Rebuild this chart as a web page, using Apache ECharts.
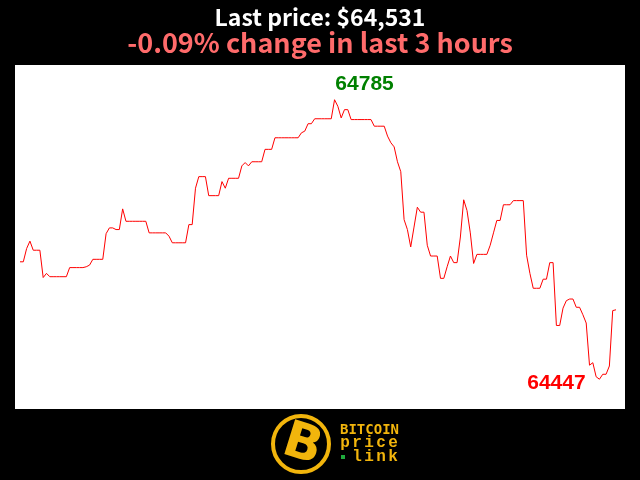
<!DOCTYPE html>
<html>
<head>
<meta charset="utf-8">
<style>
  html, body { margin: 0; padding: 0; background: #000; }
  #main { width: 640px; height: 480px; }
</style>
<script src="https://cdn.jsdelivr.net/npm/echarts@6/dist/echarts.min.js"></script>
</head>
<body>
<div id="main"></div>
<script>
// price per minute, last 3 hours
var prices = [
  64589, 64589, 64605, 64614, 64603, 64603, 64603, 64570, 64575, 64571,
  64571, 64571, 64571, 64571, 64571, 64582, 64582, 64582, 64582, 64582,
  64583, 64585, 64592, 64592, 64592, 64592, 64623, 64630, 64630, 64628,
  64628, 64653, 64638, 64638, 64638, 64638, 64638, 64638, 64638, 64624,
  64624, 64624, 64624, 64624, 64624, 64620, 64612, 64612, 64612, 64612,
  64612, 64634, 64634, 64678, 64692, 64692, 64692, 64669, 64669, 64669,
  64669, 64686, 64678, 64690, 64690, 64690, 64690, 64705, 64709, 64705,
  64710, 64710, 64710, 64710, 64725, 64725, 64725, 64739, 64739, 64739,
  64739, 64739, 64739, 64739, 64739, 64745, 64747, 64756, 64756, 64762,
  64762, 64762, 64762, 64762, 64762, 64785, 64777, 64763, 64773, 64773,
  64761, 64761, 64761, 64761, 64761, 64761, 64761, 64753, 64753, 64753,
  64753, 64741, 64733, 64728, 64710, 64698, 64640, 64628, 64607, 64631,
  64655, 64649, 64649, 64609, 64596, 64596, 64596, 64569, 64569, 64583,
  64596, 64588, 64588, 64619, 64664, 64651, 64624, 64587, 64598, 64598,
  64598, 64598, 64609, 64624, 64639, 64639, 64658, 64658, 64658, 64663,
  64663, 64663, 64663, 64597, 64575, 64557, 64557, 64557, 64568, 64568,
  64588, 64588, 64512, 64512, 64533, 64542, 64544, 64544, 64534, 64534,
  64525, 64515, 64464, 64467, 64450, 64447, 64453, 64453, 64463, 64530,
  64531
];
var minutes = [];
for (var i = 0; i < prices.length; i++) {
  minutes.push(i);
}
var yMin = 64411, yMax = 64827;

var lastPrice = prices[prices.length - 1];
var change = (lastPrice - prices[0]) / prices[0] * 100;
var gold = '#f2b50c';

var myChart = echarts.init(document.getElementById('main'));

//logo
var logo = [
  {type: 'rect', z: -10, shape: {x: 15, y: 65, width: 610, height: 344}, style: {fill: '#fff'}},
  {type: 'circle', shape: {cx: 301, cy: 444, r: 28}, style: {fill: '#000', stroke: gold, lineWidth: 4}},
  {type: 'text', x: 302, y: 446, rotation: -0.3, style: {
    text: 'B', fill: gold, font: 'bold 50px "DejaVu Sans"', align: 'center', verticalAlign: 'middle'}},
  {type: 'text', x: 340, y: 423, style: {text: 'BITCOIN', fill: gold, font: 'bold 14px "DejaVu Sans Mono"'}},
  {type: 'rect', shape: {x: 341, y: 455, width: 4, height: 4}, style: {fill: '#1faa3c'}}
];
function spaced(word, x0, y, step) {
  for (var k = 0; k < word.length; k++) {
    logo.push({type: 'text', x: x0 + k * step, y: y, style: {
      text: word[k], fill: gold, font: 'bold 16px "Liberation Mono"', align: 'center', verticalAlign: 'middle'}});
  }
}
spaced('price', 345, 443, 12);
spaced('link', 357, 457, 12);

option = {
  backgroundColor: '#000',
  animation: false,
  title: [{
    text: 'Last price: $' + lastPrice.toLocaleString('en-US'),
    left: 'center',
    top: 1,
    textStyle: {color: '#fff', fontSize: 23, fontWeight: 'bold', fontFamily: 'Noto Sans CJK SC'}
  }, {
    text: change.toFixed(2) + '% change in last 3 hours',
    left: 'center',
    top: 24,
    textStyle: {color: '#ff6b6b', fontSize: 27, fontWeight: 'bold', fontFamily: 'Noto Sans CJK SC'}
  }],
  grid: {left: 20, right: 24, top: 65, bottom: 71},
  xAxis: {
    type: 'category',
    data: minutes,
    boundaryGap: false,
    show: false
  },
  yAxis: {
    type: 'value',
    min: yMin,
    max: yMax,
    show: false
  },
  graphic: logo,
  series: [
    {
      name: 'price',
      type: 'line',
      data: prices,
      showSymbol: false,
      lineStyle: {color: '#ff0000', width: 1},
      itemStyle: {color: '#ff0000'},
      markPoint: {
        symbol: 'circle',
        symbolSize: 0,
        data: [
          {type: 'max', label: {offset: [30, -16], color: '#008000'}},
          {type: 'min', label: {offset: [-43, 4], color: '#ff0000'}}
        ],
        label: {
          show: true,
          position: 'inside',
          formatter: '{c}',
          fontSize: 21,
          fontWeight: 'bold',
          fontFamily: 'Liberation Sans'
        }
      }
    }
  ]
};
myChart.setOption(option);
</script>
</body>
</html>
